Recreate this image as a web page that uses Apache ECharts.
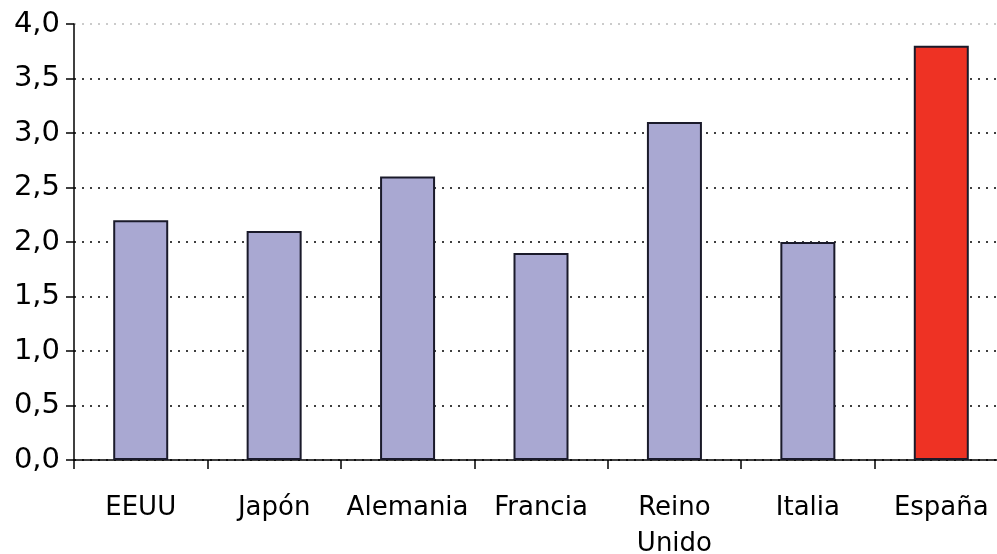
<!DOCTYPE html>
<html><head><meta charset="utf-8">
<script src="https://cdn.jsdelivr.net/npm/echarts@6/dist/echarts.min.js"></script>
<style>html,body{margin:0;padding:0;background:#fff}#c{width:997px;height:554px}</style>
</head><body><div id="c"></div>
<script>
const categories = ['EEUU', 'Japón', 'Alemania', 'Francia', 'Reino\nUnido', 'Italia', 'España'];
const values = [2.2, 2.1, 2.6, 1.9, 3.1, 2.0, 3.8];
const highlight = 'España';
const chart = echarts.init(document.getElementById('c'));
const font = 'DejaVu Sans';
chart.setOption({
  animation: false,
  grid: { left: 74, top: 24, right: -11, bottom: 94, containLabel: false, outerBoundsMode: 'none' },
  xAxis: {
    type: 'category', data: categories,
    axisLine: { lineStyle: { color: '#000', width: 1.5 } },
    axisTick: { show: true, interval: 0, length: 9, lineStyle: { color: '#000', width: 1.5 } },
    axisLabel: { interval: 0, color: '#000', fontFamily: font, fontSize: 26, margin: 30, lineHeight: 36 }
  },
  yAxis: {
    type: 'value', min: 0, max: 4, interval: 0.5,
    axisLine: { show: true, lineStyle: { color: '#000', width: 1.5 } },
    axisTick: { show: true, length: 8, lineStyle: { color: '#000', width: 1.5 } },
    axisLabel: { color: '#000', fontFamily: font, fontSize: 29, margin: 14,
      formatter: v => v.toFixed(1).replace('.', ',') },
    splitLine: { show: true, lineStyle: { type: [2, 6], width: 1.5,
      color: ['#000','#000','#000','#000','#000','#000','#000','#000','#bbb'] } }
  },
  series: [{
    type: 'bar', barWidth: 55,
    data: values.map((v, i) => ({ value: v, itemStyle: { color: categories[i] === highlight ? '#EE3224' : '#A9A8D2' } })),
    itemStyle: { borderColor: '#1a1a2a', borderWidth: 2 }
  }]
});
</script></body></html>
